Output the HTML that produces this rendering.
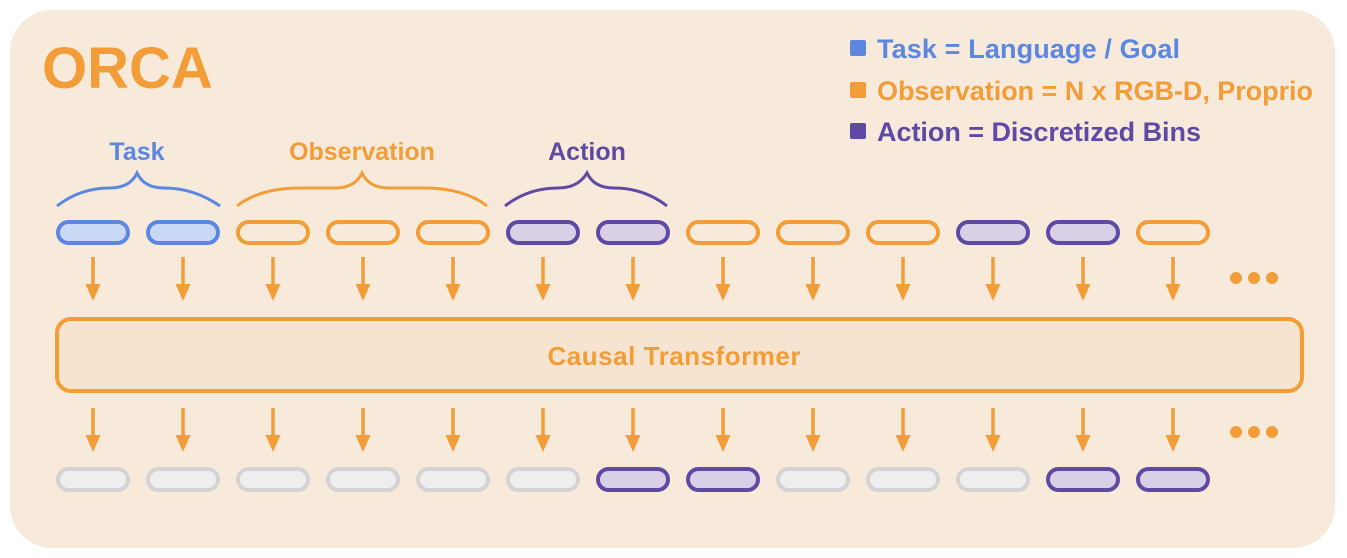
<!DOCTYPE html>
<html><head><meta charset="utf-8"><style>
html,body{margin:0;padding:0;background:#fff;}
svg{display:block;font-family:"Liberation Sans",Arial,sans-serif;font-weight:bold;}
</style></head><body>
<svg width="1347" height="558" viewBox="0 0 1347 558" xmlns="http://www.w3.org/2000/svg">
<rect x="10" y="10" width="1325" height="538" rx="42" fill="#f8eadb"/>
<text x="42" y="88" font-size="58" fill="#f29d38">ORCA</text>
<g font-size="27">
<rect x="850" y="40" width="16" height="16" rx="2" fill="#5b87e0"/>
<text x="877" y="58" fill="#5b87e0" textLength="303">Task = Language / Goal</text>
<rect x="850" y="82" width="16" height="16" rx="2" fill="#f29d38"/>
<text x="877" y="100" fill="#f29d38" textLength="436">Observation = N x RGB-D, Proprio</text>
<rect x="850" y="123" width="16" height="16" rx="2" fill="#5e4aa3"/>
<text x="877" y="141" fill="#5e4aa3" textLength="324">Action = Discretized Bins</text>
</g>
<g font-size="25" text-anchor="middle">
<text x="137" y="160" fill="#5b87e0">Task</text>
<text x="362" y="160" fill="#f29d38">Observation</text>
<text x="587" y="160" fill="#5e4aa3">Action</text>
</g>
<g fill="none" stroke-width="3">
<path d="M57,206 Q80,188 110,188 Q130,188 137,173 Q144,188 164,188 Q194,188 220,206" stroke="#5b87e0"/>
<path d="M237,206 Q260,188 300,188 L335,188 Q355,188 362,173 Q369,188 389,188 L424,188 Q464,188 487,206" stroke="#f29d38"/>
<path d="M505,206 Q528,188 558,188 Q578,188 587,173 Q594,188 614,188 Q644,188 667,206" stroke="#5e4aa3"/>
</g>
<rect x="57" y="319" width="1245" height="72" rx="14" fill="#f7e4d0" stroke="#f29d38" stroke-width="4"/>
<text x="674" y="365" font-size="26" fill="#f29d38" text-anchor="middle" textLength="253">Causal Transformer</text>
<g fill="#f29d38">
<circle cx="1236" cy="278" r="6"/><circle cx="1254" cy="278" r="6"/><circle cx="1272" cy="278" r="6"/>
<circle cx="1236" cy="432" r="6"/><circle cx="1254" cy="432" r="6"/><circle cx="1272" cy="432" r="6"/>
</g>
<g stroke-width="4">
<rect x="58" y="222" width="70" height="21" rx="10.5" fill="#c9d8f5" stroke="#5b87e0"/>
<rect x="148" y="222" width="70" height="21" rx="10.5" fill="#c9d8f5" stroke="#5b87e0"/>
<rect x="238" y="222" width="70" height="21" rx="10.5" fill="#f8eadb" stroke="#f29d38"/>
<rect x="328" y="222" width="70" height="21" rx="10.5" fill="#f8eadb" stroke="#f29d38"/>
<rect x="418" y="222" width="70" height="21" rx="10.5" fill="#f8eadb" stroke="#f29d38"/>
<rect x="508" y="222" width="70" height="21" rx="10.5" fill="#d9d0e8" stroke="#5e4aa3"/>
<rect x="598" y="222" width="70" height="21" rx="10.5" fill="#d9d0e8" stroke="#5e4aa3"/>
<rect x="688" y="222" width="70" height="21" rx="10.5" fill="#f8eadb" stroke="#f29d38"/>
<rect x="778" y="222" width="70" height="21" rx="10.5" fill="#f8eadb" stroke="#f29d38"/>
<rect x="868" y="222" width="70" height="21" rx="10.5" fill="#f8eadb" stroke="#f29d38"/>
<rect x="958" y="222" width="70" height="21" rx="10.5" fill="#d9d0e8" stroke="#5e4aa3"/>
<rect x="1048" y="222" width="70" height="21" rx="10.5" fill="#d9d0e8" stroke="#5e4aa3"/>
<rect x="1138" y="222" width="70" height="21" rx="10.5" fill="#f8eadb" stroke="#f29d38"/>

<rect x="58" y="469" width="70" height="21" rx="10.5" fill="#eeeeee" stroke="#d3d3d3"/>
<rect x="148" y="469" width="70" height="21" rx="10.5" fill="#eeeeee" stroke="#d3d3d3"/>
<rect x="238" y="469" width="70" height="21" rx="10.5" fill="#eeeeee" stroke="#d3d3d3"/>
<rect x="328" y="469" width="70" height="21" rx="10.5" fill="#eeeeee" stroke="#d3d3d3"/>
<rect x="418" y="469" width="70" height="21" rx="10.5" fill="#eeeeee" stroke="#d3d3d3"/>
<rect x="508" y="469" width="70" height="21" rx="10.5" fill="#eeeeee" stroke="#d3d3d3"/>
<rect x="598" y="469" width="70" height="21" rx="10.5" fill="#d9d0e8" stroke="#5e4aa3"/>
<rect x="688" y="469" width="70" height="21" rx="10.5" fill="#d9d0e8" stroke="#5e4aa3"/>
<rect x="778" y="469" width="70" height="21" rx="10.5" fill="#eeeeee" stroke="#d3d3d3"/>
<rect x="868" y="469" width="70" height="21" rx="10.5" fill="#eeeeee" stroke="#d3d3d3"/>
<rect x="958" y="469" width="70" height="21" rx="10.5" fill="#eeeeee" stroke="#d3d3d3"/>
<rect x="1048" y="469" width="70" height="21" rx="10.5" fill="#d9d0e8" stroke="#5e4aa3"/>
<rect x="1138" y="469" width="70" height="21" rx="10.5" fill="#d9d0e8" stroke="#5e4aa3"/>
</g>
<defs>
<g id="ar"><line x1="0" y1="0" x2="0" y2="30" stroke="#f29d38" stroke-width="3.5"/><path d="M-7.5,27 L7.5,27 L0,44 Z" fill="#f29d38"/></g>
</defs>
<use href="#ar" x="93" y="257"/><use href="#ar" x="183" y="257"/><use href="#ar" x="273" y="257"/><use href="#ar" x="363" y="257"/><use href="#ar" x="453" y="257"/><use href="#ar" x="543" y="257"/><use href="#ar" x="633" y="257"/><use href="#ar" x="723" y="257"/><use href="#ar" x="813" y="257"/><use href="#ar" x="903" y="257"/><use href="#ar" x="993" y="257"/><use href="#ar" x="1083" y="257"/><use href="#ar" x="1173" y="257"/>
<use href="#ar" x="93" y="408"/><use href="#ar" x="183" y="408"/><use href="#ar" x="273" y="408"/><use href="#ar" x="363" y="408"/><use href="#ar" x="453" y="408"/><use href="#ar" x="543" y="408"/><use href="#ar" x="633" y="408"/><use href="#ar" x="723" y="408"/><use href="#ar" x="813" y="408"/><use href="#ar" x="903" y="408"/><use href="#ar" x="993" y="408"/><use href="#ar" x="1083" y="408"/><use href="#ar" x="1173" y="408"/>
</svg>
</body></html>
